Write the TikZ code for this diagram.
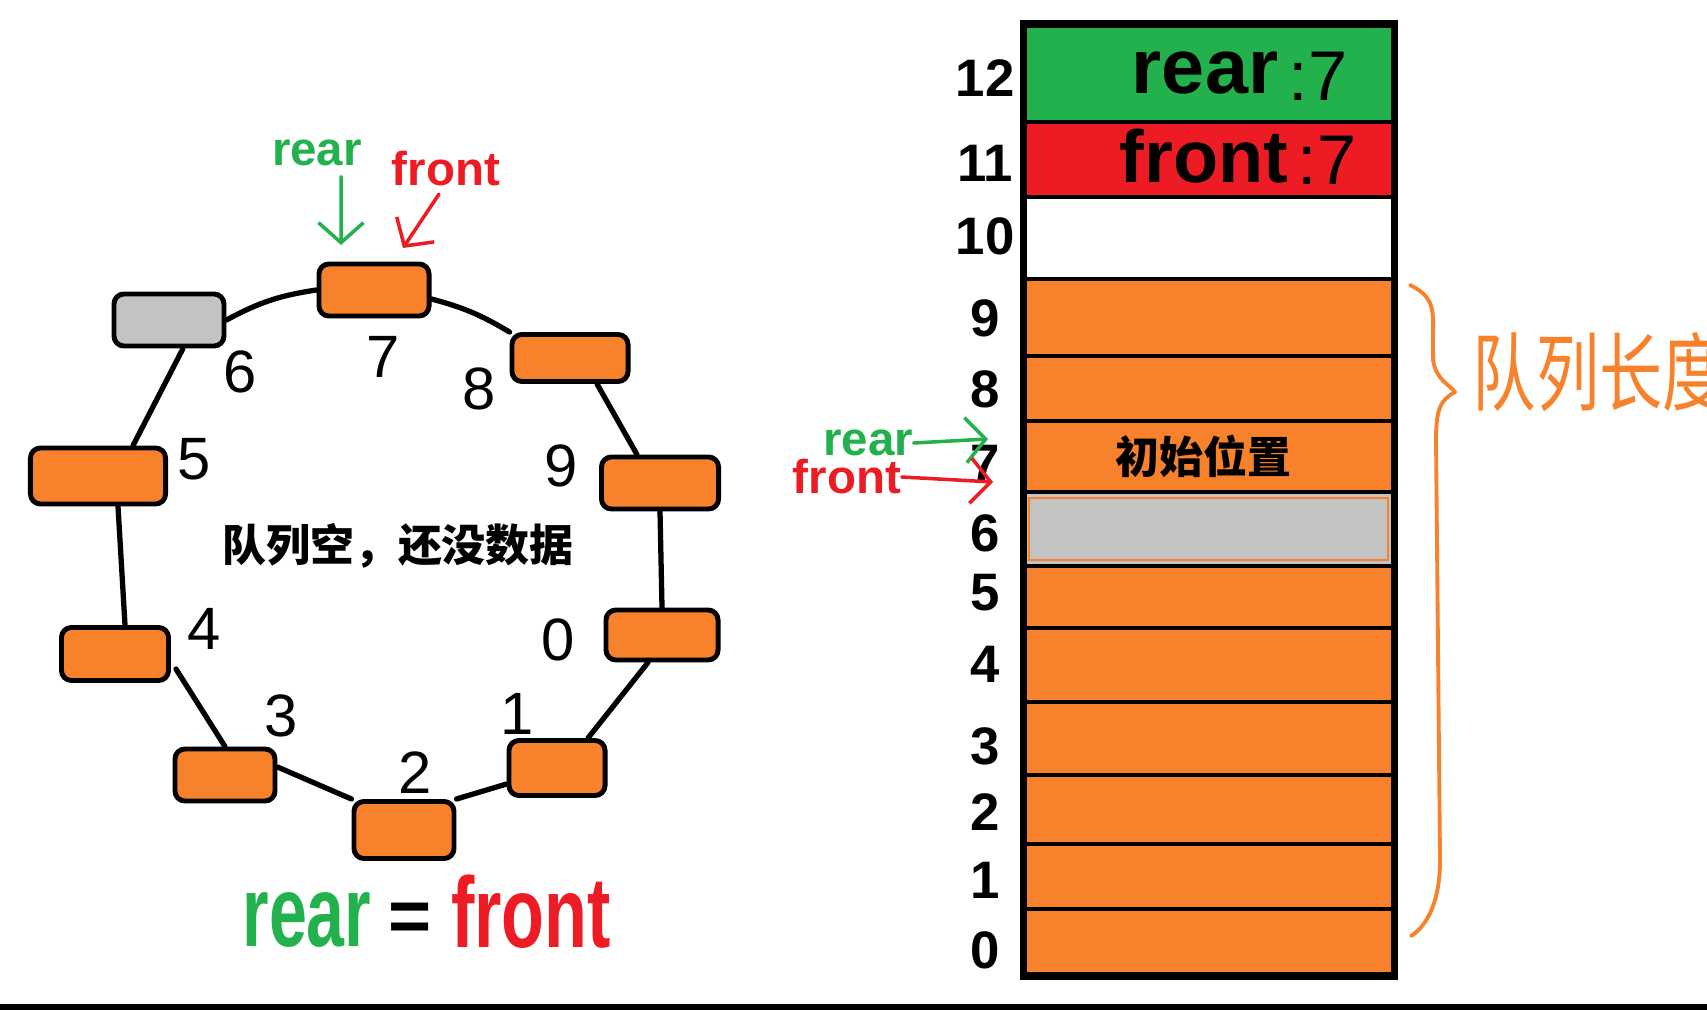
\documentclass[tikz,border=0pt]{standalone}
\usepackage{fontspec}
\setmainfont{Liberation Sans}
\newfontfamily\cjk{Noto Sans CJK SC}
\usetikzlibrary{arrows.meta}
\definecolor{qorange}{HTML}{F8822C}
\definecolor{qgreen}{HTML}{22B14C}
\definecolor{qred}{HTML}{ED1C24}
\definecolor{qgray}{HTML}{C3C3C3}
\tikzset{
  queue slot/.style={
    draw,
    fill=qorange,
    line width=1.4pt,
    rounded corners=1mm,
    minimum width=1.1cm,
    minimum height=0.52cm,
    inner sep=0pt
  },
  ring line/.style={
    line width=1.5pt,
    line cap=round
  },
  slot number/.style={
    font=\fontsize{17}{17}\selectfont,
    inner sep=0pt
  },
  array cell/.style={
    draw,
    line width=1.3pt,
    anchor=north west,
    minimum width=3.71cm,
    inner sep=0pt,
    outer sep=0pt
  },
  row number/.style={
    font=\fontsize{15}{15}\selectfont\bfseries,
    inner sep=0pt
  },
  pointer label/.style={
    font=\bfseries\fontsize{13.5}{14}\selectfont,
    inner sep=0pt
  },
  big label/.style={
    font=\bfseries\fontsize{28.5}{30}\selectfont,
    inner sep=0pt
  },
  pointer arrow/.style={
    line width=1pt,
    line cap=round,
    -{Straight Barb[length=2mm,width=4.5mm]}
  },
}

\begin{document}
\begin{tikzpicture}[x=0.01cm,y=-0.01cm]
  \useasboundingbox (0,0) rectangle (1707,1010);
  \fill (0,1004) rectangle (1707,1010);

  \node[queue slot] (s7) at (374,290) {};
  \node[queue slot,fill=qgray] (s6) at (169,320) {};
  \node[queue slot,minimum width=1.16cm,minimum height=0.47cm] (s8) at (570,358) {};
  \node[queue slot,minimum width=1.35cm,minimum height=0.56cm] (s5) at (98,476) {};
  \node[queue slot,minimum width=1.17cm] (s9) at (660,483) {};
  \node[queue slot,minimum width=1.07cm,minimum height=0.53cm] (s4) at (115,654) {};
  \node[queue slot,minimum width=1.12cm,minimum height=0.5cm] (s0) at (662,635) {};
  \node[queue slot,minimum width=1cm] (s3) at (225,775) {};
  \node[queue slot,minimum width=0.96cm,minimum height=0.55cm] (s1) at (557,768) {};
  \node[queue slot,minimum width=1cm,minimum height=0.57cm] (s2) at (404,830) {};

  \draw[ring line] (s7.west) to[bend right=10] (s6.east);
  \draw[ring line] ([yshift=-0.09cm]s7.east) to[bend left=8] (s8.north west);
  \draw[ring line] ([xshift=0.27cm]s8.south) -- ([xshift=-0.23cm]s9.north);
  \draw[ring line] (s9.south) -- (s0.north);
  \draw[ring line] ([xshift=-0.14cm]s0.south) -- ([xshift=0.31cm]s1.north);
  \draw[ring line] ([yshift=-0.16cm]s1.west) -- (s2.north east);
  \draw[ring line] ([yshift=0.08cm]s3.east) -- (s2.north west);
  \draw[ring line] (s3.north) -- ([yshift=-0.15cm,xshift=0.05cm]s4.east);
  \draw[ring line] ([xshift=0.1cm]s4.north) -- ([xshift=0.2cm]s5.south);
  \draw[ring line] ([xshift=0.35cm]s5.north) -- ([xshift=0.14cm]s6.south);

  \foreach \n/\x/\y in {6/240/372,7/383/357,8/479/389,9/561/466,5/194/459,4/204/629,0/558/640,3/281/716,1/517/714,2/415/773}
    \node[slot number] (d\n) at (\x,\y) {\n};

  \node[font=\cjk\bfseries\fontsize{12.5}{13}\selectfont] (empty) at (398,546) {队列空，还没数据};

  \node[pointer label,text=qgreen] (toprear) at (317,153) {rear};
  \coordinate (reartip) at (341,245);
  \draw[pointer arrow,qgreen] ([xshift=0.24cm,yshift=-0.1cm]toprear.south) -- (reartip);
  \node[pointer label,text=qred] (topfront) at (446,169) {front};
  \coordinate (fronttip) at (403,248);
  \draw[pointer arrow,qred] ([xshift=-0.07cm,yshift=-0.07cm]topfront.south) -- (fronttip);

  \node[big label,text=qgreen,xscale=0.68] (eqrear) at (307,920) {rear};
  \node[font=\bfseries\fontsize{21}{21}\selectfont,inner sep=0pt] (eqsign) at (410,922) {=};
  \node[big label,text=qred,xscale=0.7] (eqfront) at (531,912) {front};

  \foreach \i/\top/\bot/\col in {12/24/122/qgreen,11/122/197/qred,10/197/279/white,9/279/356/qorange,8/356/421/qorange,7/421/492/qorange,6/492/566/qgray,5/566/628/qorange,4/628/702/qorange,3/702/775/qorange,2/775/844/qorange,1/844/909/qorange,0/909/976/qorange}
    \node[array cell,fill=\col,minimum height=(\bot-\top)*0.01cm] (c\i) at (1023,\top) {};
  \draw[line width=2pt] (c12.north west) rectangle (c0.south east);
  \draw[qorange,line width=0.6pt] ([shift={(0.06cm,-0.06cm)}]c6.north west) rectangle ([shift={(-0.06cm,0.06cm)}]c6.south east);

  \foreach \i/\y in {12/78,11/163,10/236,9/318,8/389,7/463,6/533,5/593,4/664,3/746,2/812,1/880,0/950}
    \node[row number] (r\i) at (985,\y) {\i};

  \node[font=\bfseries\fontsize{22}{22}\selectfont] (rearval) at (1205,73) {rear};
  \node[font=\fontsize{20}{20}\selectfont] (rearcolon) at (1318,76) {:7};
  \node[font=\bfseries\fontsize{21}{21}\selectfont] (frontval) at (1204,156) {front};
  \node[font=\fontsize{20}{20}\selectfont] (frontcolon) at (1327,160) {:7};
  \node[font=\cjk\bfseries\fontsize{12.5}{13}\selectfont] (start) at ([xshift=-0.05cm]c7.center) {初始位置};

  \node[pointer label,text=qgreen] (siderear) at (868,443) {rear};
  \coordinate (sidereartip) at (988,439);
  \draw[pointer arrow,qgreen] (siderear.east) -- (sidereartip);
  \node[pointer label,text=qred] (sidefront) at (847,477) {front};
  \coordinate (sidefronttip) at (993,482);
  \draw[pointer arrow,qred] (sidefront.east) -- (sidefronttip);

  \draw[qorange,line width=1.1pt,line cap=round,line join=round] (1410,285) .. controls (1430,295) and (1434,305) .. (1433,330) -- (1433,360) .. controls (1436,380) and (1450,385) .. (1455,392) .. controls (1440,400) and (1436,410) .. (1436,440) -- (1440,860) .. controls (1440,900) and (1428,925) .. (1411,936);
  \node[text=qorange,font=\cjk\fontsize{18}{18}\selectfont,yscale=1.35,anchor=west,inner sep=0pt] (lenlabel) at (1472,372) {队列长度};
\end{tikzpicture}
\end{document}
